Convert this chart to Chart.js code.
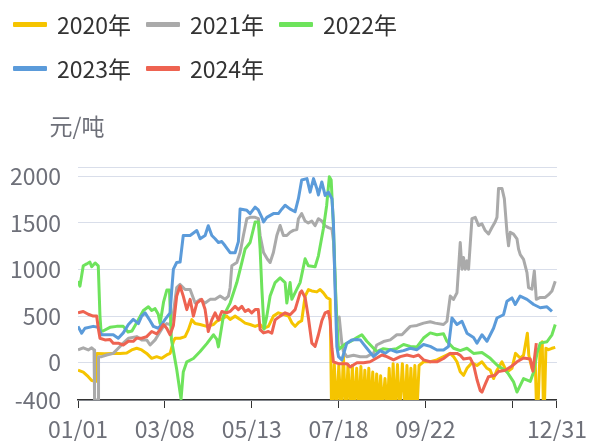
<!DOCTYPE html>
<html>
<head>
<meta charset="utf-8">
<title>价差走势</title>
<script src="https://cdn.jsdelivr.net/npm/chart.js@4.4.1/dist/chart.umd.min.js"></script>
<style>
  html, body { margin: 0; padding: 0; background: #fff; }
  #wrap { position: relative; width: 594px; height: 441px; font-family: "Noto Sans CJK SC", "Noto Sans", sans-serif; }
  #chart { position: absolute; left: 0; top: 0; }
  #legend { position: absolute; left: 13px; top: 2px; width: 420px; display: flex; flex-wrap: wrap; }
  .legend-item { display: flex; align-items: center; width: 133px; height: 44px; font-size: 23px; color: #333; white-space: nowrap; }
  .legend-swatch { width: 34px; height: 5px; margin-right: 10px; border-radius: 1px; }
  #unit { position: absolute; left: 27px; top: 111px; width: 100px; text-align: center; font-size: 23px; line-height: 28px; color: #6E7079; }
</style>
</head>
<body>
<div id="wrap">
  <canvas id="chart" width="594" height="441"></canvas>
  <div id="legend"></div>
  <div id="unit">元/吨</div>
</div>
<script>
// day of year (0 = 01/01) and value in 元/吨
const series2020 = [
  [0,-80],[4,-100],[7.8,-150],[10.4,-190],[13.8,-200],[14.3,100],[20,95],[27,100],[32,100],[37,105],
  [40.8,137],[44.6,155],[48.4,137],[52.2,100],[56,47],[59.8,65],[63.6,47],[67.4,83],[70,100],[72.5,230],
  [73.8,263],[77.6,263],[81.4,280],[83.9,355],[86.5,462],[89,420],[92.8,410],[97.9,390],[103,410],[105.5,445],
  [109.3,470],[113,500],[115.6,465],[119.4,500],[123.2,465],[127,425],[130.8,410],[134.6,390],[138.4,410],[141,370],
  [144.7,390],[148.5,500],[152.3,535],[156,520],[160,500],[162.5,430],[165,390],[167.5,430],[170,450],[172.6,715],
  [175.1,785],[177.7,770],[181.5,760],[184,785],[186.5,750],[189,700],[191.6,680],
  [192.6,-400],[193.6,-400],[194.8,-20],[196,-400],[197,-400],[198.2,-30],[199.5,-400],[200.5,-400],[201.7,87],
  [203,-400],[204,-400],[205.2,-20],[206.5,-400],[207.5,-400],[208.5,-30],[209.5,-400],[210.5,-400],[211.8,-60],
  [213,-400],[214,-400],[215,-40],[216,-400],[217,-400],[218,-80],[219,-400],[220,-400],[221,-60],
  [222,-400],[223,-400],[224,-100],[225,-400],[226,-400],[227,-120],[228,-400],[229,-400],[230,-140],
  [231,-400],[232,-400],[233.3,-170],[234.5,-400],[235.5,-400],[236.5,-60],[237.5,-400],[238.5,-400],[239.5,-10],
  [240.5,-400],[241.5,-400],[242.8,-20],[244,-400],[245,-400],[246.5,-10],[248,-400],[249,-400],[250,-30],
  [251,-400],[252,-400],[253,-60],[254,-400],[255,-400],[256,-30],[257,-400],[258,-400],[259.2,-30],
  [262.6,10],[267.7,10],[272.8,30],[277.8,65],[282.9,100],[285.4,65],[288,10],[290.5,-97],[293,-135],[295.6,-60],
  [299.4,0],[303.2,-30],[307,10],[310.8,-60],[313.3,-80],[315.8,-170],[318.4,-80],[322.2,10],[326,-100],[329.8,-60],
  [332.5,100],[336,50],[338.6,80],[341.5,317],[342.6,80],[345,-60],[347.5,10],[348.3,-400],[349.8,-400],[351.3,190],
  [352.8,225],[353.6,-400],[354.6,-400],[355.6,155],[357.6,140],[360.2,155],[362.7,165]
];
const series2021 = [
  [0,137],[4,160],[7.8,137],[10.4,160],[12.2,137],[12.6,-400],[15.2,-400],[15.6,65],[18,65],[21.8,83],
  [26.8,100],[30.6,155],[34.4,210],[38.3,263],[44.6,280],[48.4,245],[52.2,245],[54.8,190],[58.6,245],[61,300],
  [64.9,390],[67.4,420],[70,410],[72.5,535],[75,805],[77.6,840],[81.4,785],[85.2,785],[89,640],[92.8,680],
  [96.6,640],[100.4,680],[104.2,680],[108,715],[111.8,680],[114.3,715],[115.6,805],[116.9,1040],[120.7,1075],[123.2,1183],
  [125.7,1365],[128.3,1545],[130.8,1560],[134.6,1560],[137.1,1545],[138.4,1365],[141,1183],[144,1110],[146,1075],[148.5,1183],
  [151.1,1365],[153.6,1472],[156.1,1365],[158.7,1365],[161.2,1400],[163.7,1420],[166.3,1430],[167.5,1545],[170,1600],[172.6,1520],
  [175,1500],[177.7,1520],[180.2,1470],[182.7,1545],[185.3,1520],[187.8,1470],[190.3,1450],[193,1435],[194.2,1300],[196.5,480],
  [198.5,490],[200.5,210],[201.7,120],[204.3,65],[209.4,80],[214.5,65],[219.5,65],[222,85],[224.6,100],[227,190],
  [232.2,227],[237.3,245],[242.3,300],[246.2,300],[250,355],[252.5,390],[257.6,400],[262.6,425],[267.7,440],[271.5,425],
  [277.8,410],[280.4,445],[282.9,715],[285.4,680],[288,750],[290.5,1290],[291.8,1003],[293,1130],[294.3,1003],[295.6,1093],
  [296.8,1003],[299.4,1545],[301.9,1560],[304.4,1472],[307,1490],[309.5,1418],[312,1382],[314.6,1450],[317,1510],[318.4,1560],
  [319.6,1870],[322.2,1870],[324,1760],[326,1400],[327.2,1255],[328.5,1400],[331,1380],[333.6,1330],[334.8,1220],[336.1,1160],
  [338.6,1110],[341.2,967],[342.4,805],[345,790],[346.8,985],[348.3,680],[351.3,700],[355.1,700],[357.6,730],[360.2,770],
  [362.7,875]
];
const series2022 = [
  [0,877],[1.5,822],[4,1040],[6.6,1060],[9,1080],[10.4,1030],[13,1070],[15.4,1040],[16.7,500],[17.5,340],
  [19,340],[24.3,380],[29.4,390],[34.4,390],[38,330],[41,340],[44.6,430],[47,490],[49.7,560],[53.5,600],
  [56,560],[58.6,580],[61,520],[62.4,420],[65,650],[67.5,780],[69.5,780],[71,250],[75,-70],[78.3,-390],
  [80,-100],[82.7,10],[87.7,45],[92.8,120],[97.9,205],[103,300],[105.5,250],[106.7,170],[110.5,500],[115.6,640],
  [120.7,860],[124.5,1075],[127,1220],[130.8,1290],[134.6,1510],[137.1,1510],[138.4,1220],[139.7,800],[141.4,360],[143.5,500],
  [146,715],[149.8,860],[153.6,910],[157.4,860],[158.7,640],[161.2,860],[162.5,680],[166.3,790],[168.8,860],[172.6,1115],
  [175.1,1040],[180.2,1030],[182.7,1147],[186.5,1440],[189,1690],[191,1995],[192.4,1960],[194,1500],[196.2,600],[198,140],
  [199.2,155],[203,200],[206.8,225],[212,270],[215.7,300],[219.5,230],[227,120],[232,150],[237,140],[242,150],
  [247.4,195],[252.5,175],[257.6,170],[262.6,265],[267.7,320],[272.8,300],[277.8,310],[280.4,230],[285.4,155],[290.5,130],
  [295.6,155],[300.6,100],[307,110],[313.3,47],[318.4,-25],[326,-97],[331,-205],[333.6,-315],[338.6,-170],[343.7,-200],
  [346.3,-100],[348.8,100],[351.3,210],[356.4,225],[360.2,300],[362.7,410]
];
const series2023 = [
  [0,390],[2.8,317],[5.3,370],[11.6,390],[15.4,380],[18,300],[26.8,300],[30.6,263],[34.4,320],[38.3,410],
  [42,465],[45.9,420],[48.4,500],[51,535],[54.8,450],[57.3,390],[61,370],[63.6,410],[66.2,465],[70,535],
  [71.3,790],[72.5,1005],[75,1075],[77.6,1080],[80,1365],[82.7,1365],[85.2,1365],[90.3,1418],[92.8,1330],[96.6,1365],
  [99,1470],[101.7,1365],[104.2,1330],[106.7,1290],[109.3,1300],[111.8,1255],[115.6,1180],[119.4,1180],[121.9,1300],[123.2,1650],
  [128.3,1635],[130.8,1600],[134.6,1670],[137,1640],[139.7,1560],[141,1510],[143.5,1560],[148.5,1600],[152.3,1600],[155,1650],
  [157.4,1690],[161,1650],[165,1620],[167.5,1760],[170,1960],[174,1975],[176.4,1830],[179,1975],[181.5,1870],[182.7,1800],
  [185.3,1940],[187.8,1795],[190.3,1830],[193,1760],[194.1,1510],[195.4,785],[196.7,175],[198,65],[200.5,30],[204.3,210],
  [208,245],[212,250],[214.5,245],[217,200],[219.5,155],[224.6,65],[229.7,130],[233.5,100],[237.3,140],[242.3,115],
  [247.4,130],[252.5,155],[257.6,140],[262.6,195],[267.7,175],[272.8,137],[277.8,137],[281.6,175],[284.2,480],[288,410],
  [291.8,445],[295.6,317],[300.6,270],[303.2,210],[307,300],[310.8,230],[315.8,370],[318.4,480],[323.4,515],[326,660],
  [329.8,695],[332.3,625],[336,715],[341.2,680],[346.3,625],[351.3,590],[356.4,600],[360.2,550]
];
const series2024 = [
  [0,535],[4,550],[7.8,520],[11.6,500],[14.2,500],[15.4,370],[16.7,263],[20.5,245],[24.3,250],[26.8,210],
  [30.6,210],[34.4,190],[38.3,230],[42,230],[44.6,263],[48.4,263],[52.2,280],[56,335],[59.8,310],[62.4,355],
  [64.9,410],[67.4,370],[70,300],[72.5,400],[75,715],[77.6,822],[80,715],[82.7,570],[85.2,680],[87.7,500],
  [90.3,640],[94,680],[96.6,570],[99,335],[101.7,460],[104.2,535],[106.7,460],[109.3,550],[113,535],[115.6,550],
  [119.4,605],[121.9,570],[124.5,605],[127,550],[129.5,570],[132,535],[134.6,570],[137,570],[138.4,355],[141,320],
  [144.7,335],[147.3,317],[149.8,460],[153.6,500],[157.4,535],[161.2,515],[165,570],[168.8,750],[170,770],[172.6,700],
  [175,490],[177.7,210],[180.2,175],[182.7,300],[185.3,450],[187.8,535],[190.3,550],[191.6,450],[193,155],[194.1,10],
  [198,-10],[204.3,-10],[206.8,-45],[212,0],[217,0],[222,10],[227,50],[231,83],[234.7,65],[239.8,30],
  [244.9,65],[250,83],[255,65],[258.8,83],[262.6,30],[267.7,10],[272.8,10],[277.8,45],[282.9,100],[288,100],
  [290.5,80],[293,40],[298,50],[300.6,-20],[303.2,-180],[305.7,-300],[307,-315],[309.5,-230],[312,-150],[317,-135],
  [319.6,-95],[324.7,-80],[329.8,-35],[333.6,10],[338.6,50],[343.7,40],[345.7,-90],[348.3,210]
];

const seriesNames = ['2020年', '2021年', '2022年', '2023年', '2024年'];
const seriesData = [series2020, series2021, series2022, series2023, series2024];
const seriesColors = ['#F5C400', '#AAAAAA', '#6EE35C', '#5B9BDA', '#EE6351'];

const xTickDays = [0, 66, 132, 198, 264, 330, 364];
const xTickLabels = ['01/01', '03/08', '05/13', '07/18', '09/22', '', '12/31'];
const yTickValues = [-400, 0, 500, 1000, 1500, 2000, 2100];
const yTickLabels = ['-400', '0', '500', '1000', '1500', '2000', ''];

const gridColor = '#D9DEEA';

Chart.defaults.font.family = '"Noto Sans CJK SC", "Noto Sans", sans-serif';

// html legend, two rows like the original
const legendEl = document.getElementById('legend');
seriesNames.forEach((name, i) => {
  const item = document.createElement('div');
  item.className = 'legend-item';
  item.innerHTML = `<span class="legend-swatch" style="background:${seriesColors[i]}"></span><span>${name}</span>`;
  legendEl.appendChild(item);
});

const datasets = seriesData.map((data, i) => ({
  label: seriesNames[i],
  data: data,
  borderColor: seriesColors[i],
  backgroundColor: seriesColors[i],
  borderWidth: 3,
  pointRadius: 0,
  tension: 0,
  fill: false,
  clip: 0,
  borderJoinStyle: 'round',
  order: seriesNames.length - i   // later years drawn on top
}));

new Chart(document.getElementById('chart'), {
  type: 'line',
  data: { datasets: datasets },
  options: {
    responsive: false,
    animation: false,
    layout: { padding: { top: 167, right: 36, bottom: 0, left: 8 } },
    plugins: {
      legend: { display: false },
      tooltip: { enabled: false }
    },
    scales: {
      x: {
        type: 'linear',
        min: 0,
        max: 364,
        afterBuildTicks: scale => { scale.ticks = xTickDays.map(v => ({ value: v })); },
        afterFit: scale => { scale.height = 41; },
        ticks: {
          autoSkip: false,
          maxRotation: 0,
          color: '#6E7079',
          font: { size: 23 },
          padding: 7,
          callback: (value, index) => xTickLabels[index]
        },
        grid: { drawOnChartArea: false, tickLength: 8, color: '#333' },
        border: { color: '#333', width: 1.5 }
      },
      // empty top axis: only its border, the top split line of the grid
      xTop: {
        type: 'linear',
        position: 'top',
        min: 0,
        max: 364,
        afterFit: scale => { scale.height = 0; },
        ticks: { display: false },
        grid: { display: false, drawTicks: false },
        border: { display: true, color: gridColor, width: 1 }
      },
      y: {
        min: -400,
        max: 2100,
        afterBuildTicks: scale => { scale.ticks = yTickValues.map(v => ({ value: v })); },
        afterFit: scale => { scale.width = 70; },
        ticks: {
          autoSkip: false,
          color: '#6E7079',
          font: { size: 23 },
          padding: 17,
          callback: (value, index) => yTickLabels[index]
        },
        grid: { color: gridColor, drawTicks: false },
        border: { display: false }
      }
    }
  }
});
</script>
</body>
</html>
